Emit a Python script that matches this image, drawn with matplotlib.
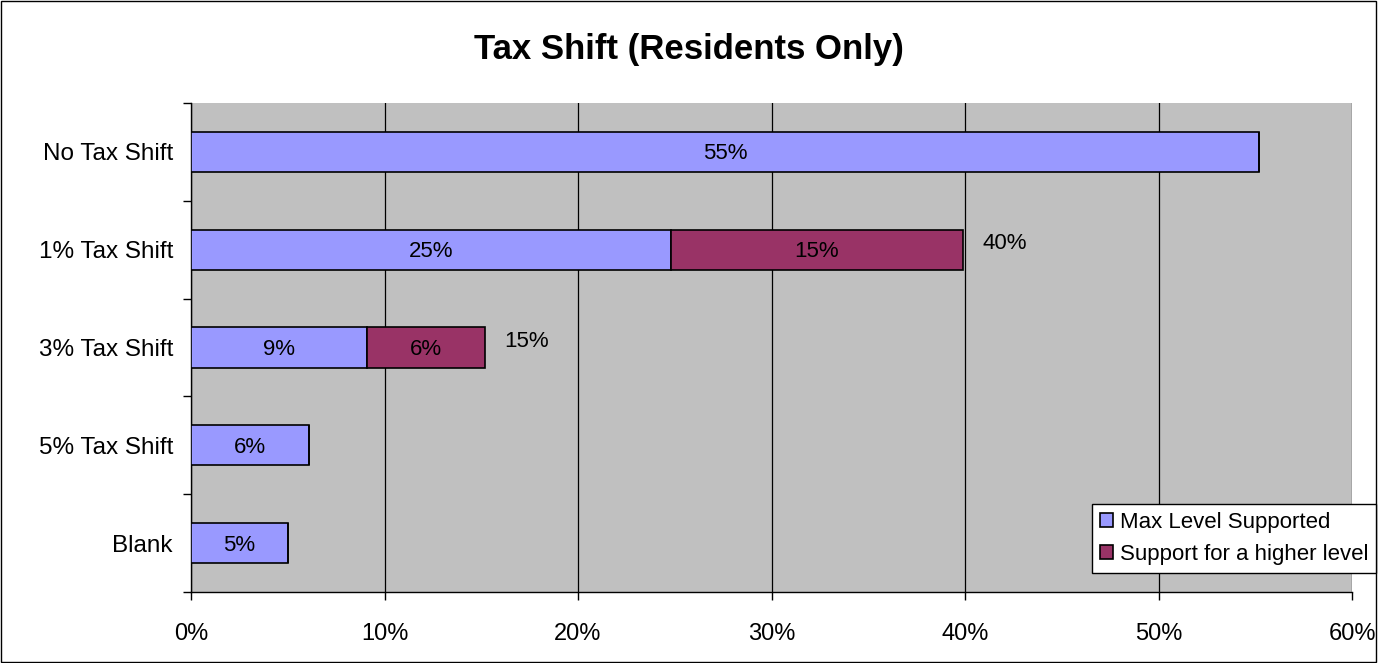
import numpy as np
import matplotlib.pyplot as plt
from matplotlib.patches import Rectangle

plt.rcParams['font.family'] = ['Liberation Sans', 'DejaVu Sans']

categories = ["No Tax Shift", "1% Tax Shift", "3% Tax Shift", "5% Tax Shift", "Blank"]
max_level = [55.2, 24.8, 9.1, 6.1, 5.0]
higher_level = [0, 15.1, 6.1, 0, 0]
max_labels = ["55%", "25%", "9%", "6%", "5%"]
higher_labels = ["", "15%", "6%", "", ""]
total_labels = ["", "40%", "15%", "", ""]

blue = "#9999ff"
plum = "#993366"

fig = plt.figure(figsize=(13.78, 6.63), dpi=100)
ax = fig.add_axes([191 / 1378, 1 - 592 / 663, (1352 - 191) / 1378, (592 - 103) / 663])
ax.set_facecolor("#c0c0c0")

y = np.arange(len(categories))[::-1]
h = 0.41
ax.barh(y, max_level, height=h, color=blue, edgecolor="black", linewidth=1.2,
        label="Max Level Supported", zorder=3)
ax.barh(y, higher_level, left=max_level, height=h, color=plum, edgecolor="black",
        linewidth=1.2, label="Support for a higher level", zorder=3)

for yi, a, b, la, lb, lt in zip(y, max_level, higher_level, max_labels, higher_labels, total_labels):
    ax.text(a / 2, yi - 0.02, la, ha="center", va="center", fontsize=16, zorder=4)
    if b > 0:
        ax.text(a + b / 2, yi - 0.02, lb, ha="center", va="center", fontsize=16, zorder=4)
        ax.text(a + b + 1.0, yi + 0.06, lt, ha="left", va="center", fontsize=16, zorder=4)

ax.set_xlim(0, 60)
ax.set_ylim(-0.5, len(categories) - 0.5)
ax.set_xticks(np.arange(0, 61, 10))
ax.set_xticklabels([f"{v}%" for v in range(0, 61, 10)], fontsize=17)
ax.xaxis.grid(True, color="black", linewidth=0.9, zorder=1)
ax.set_axisbelow(True)

ax.set_yticks(y)
ax.set_yticklabels(categories, fontsize=17.5)
ax.set_yticks(np.arange(-0.5, len(categories), 1), minor=True)
ax.tick_params(axis="y", which="major", length=0, pad=13)
ax.tick_params(axis="y", which="minor", length=6, direction="out", width=1)
ax.tick_params(axis="x", length=6, direction="out", width=1, pad=16)

for side in ["top", "right"]:
    ax.spines[side].set_visible(False)
for side in ["left", "bottom"]:
    ax.spines[side].set_linewidth(1)

fig.text(0.5, 1 - 50 / 663, "Tax Shift (Residents Only)", ha="center", va="center",
         fontsize=25, fontweight="bold")

leg = fig.legend(loc="lower right", bbox_to_anchor=(1376 / 1378, 1 - 573 / 663),
                 fontsize=16, frameon=True, fancybox=False, edgecolor="black",
                 facecolor="white", framealpha=1,
                 handlelength=0.6, handleheight=0.6, handletextpad=0.3,
                 borderpad=0.35, labelspacing=0.5, borderaxespad=0)
leg.get_frame().set_linewidth(1)

fig.patches.append(Rectangle((0.0005, 0.001), 0.998, 0.998, transform=fig.transFigure,
                             fill=False, edgecolor="black", linewidth=1))

fig.savefig("out.png", dpi=100)
